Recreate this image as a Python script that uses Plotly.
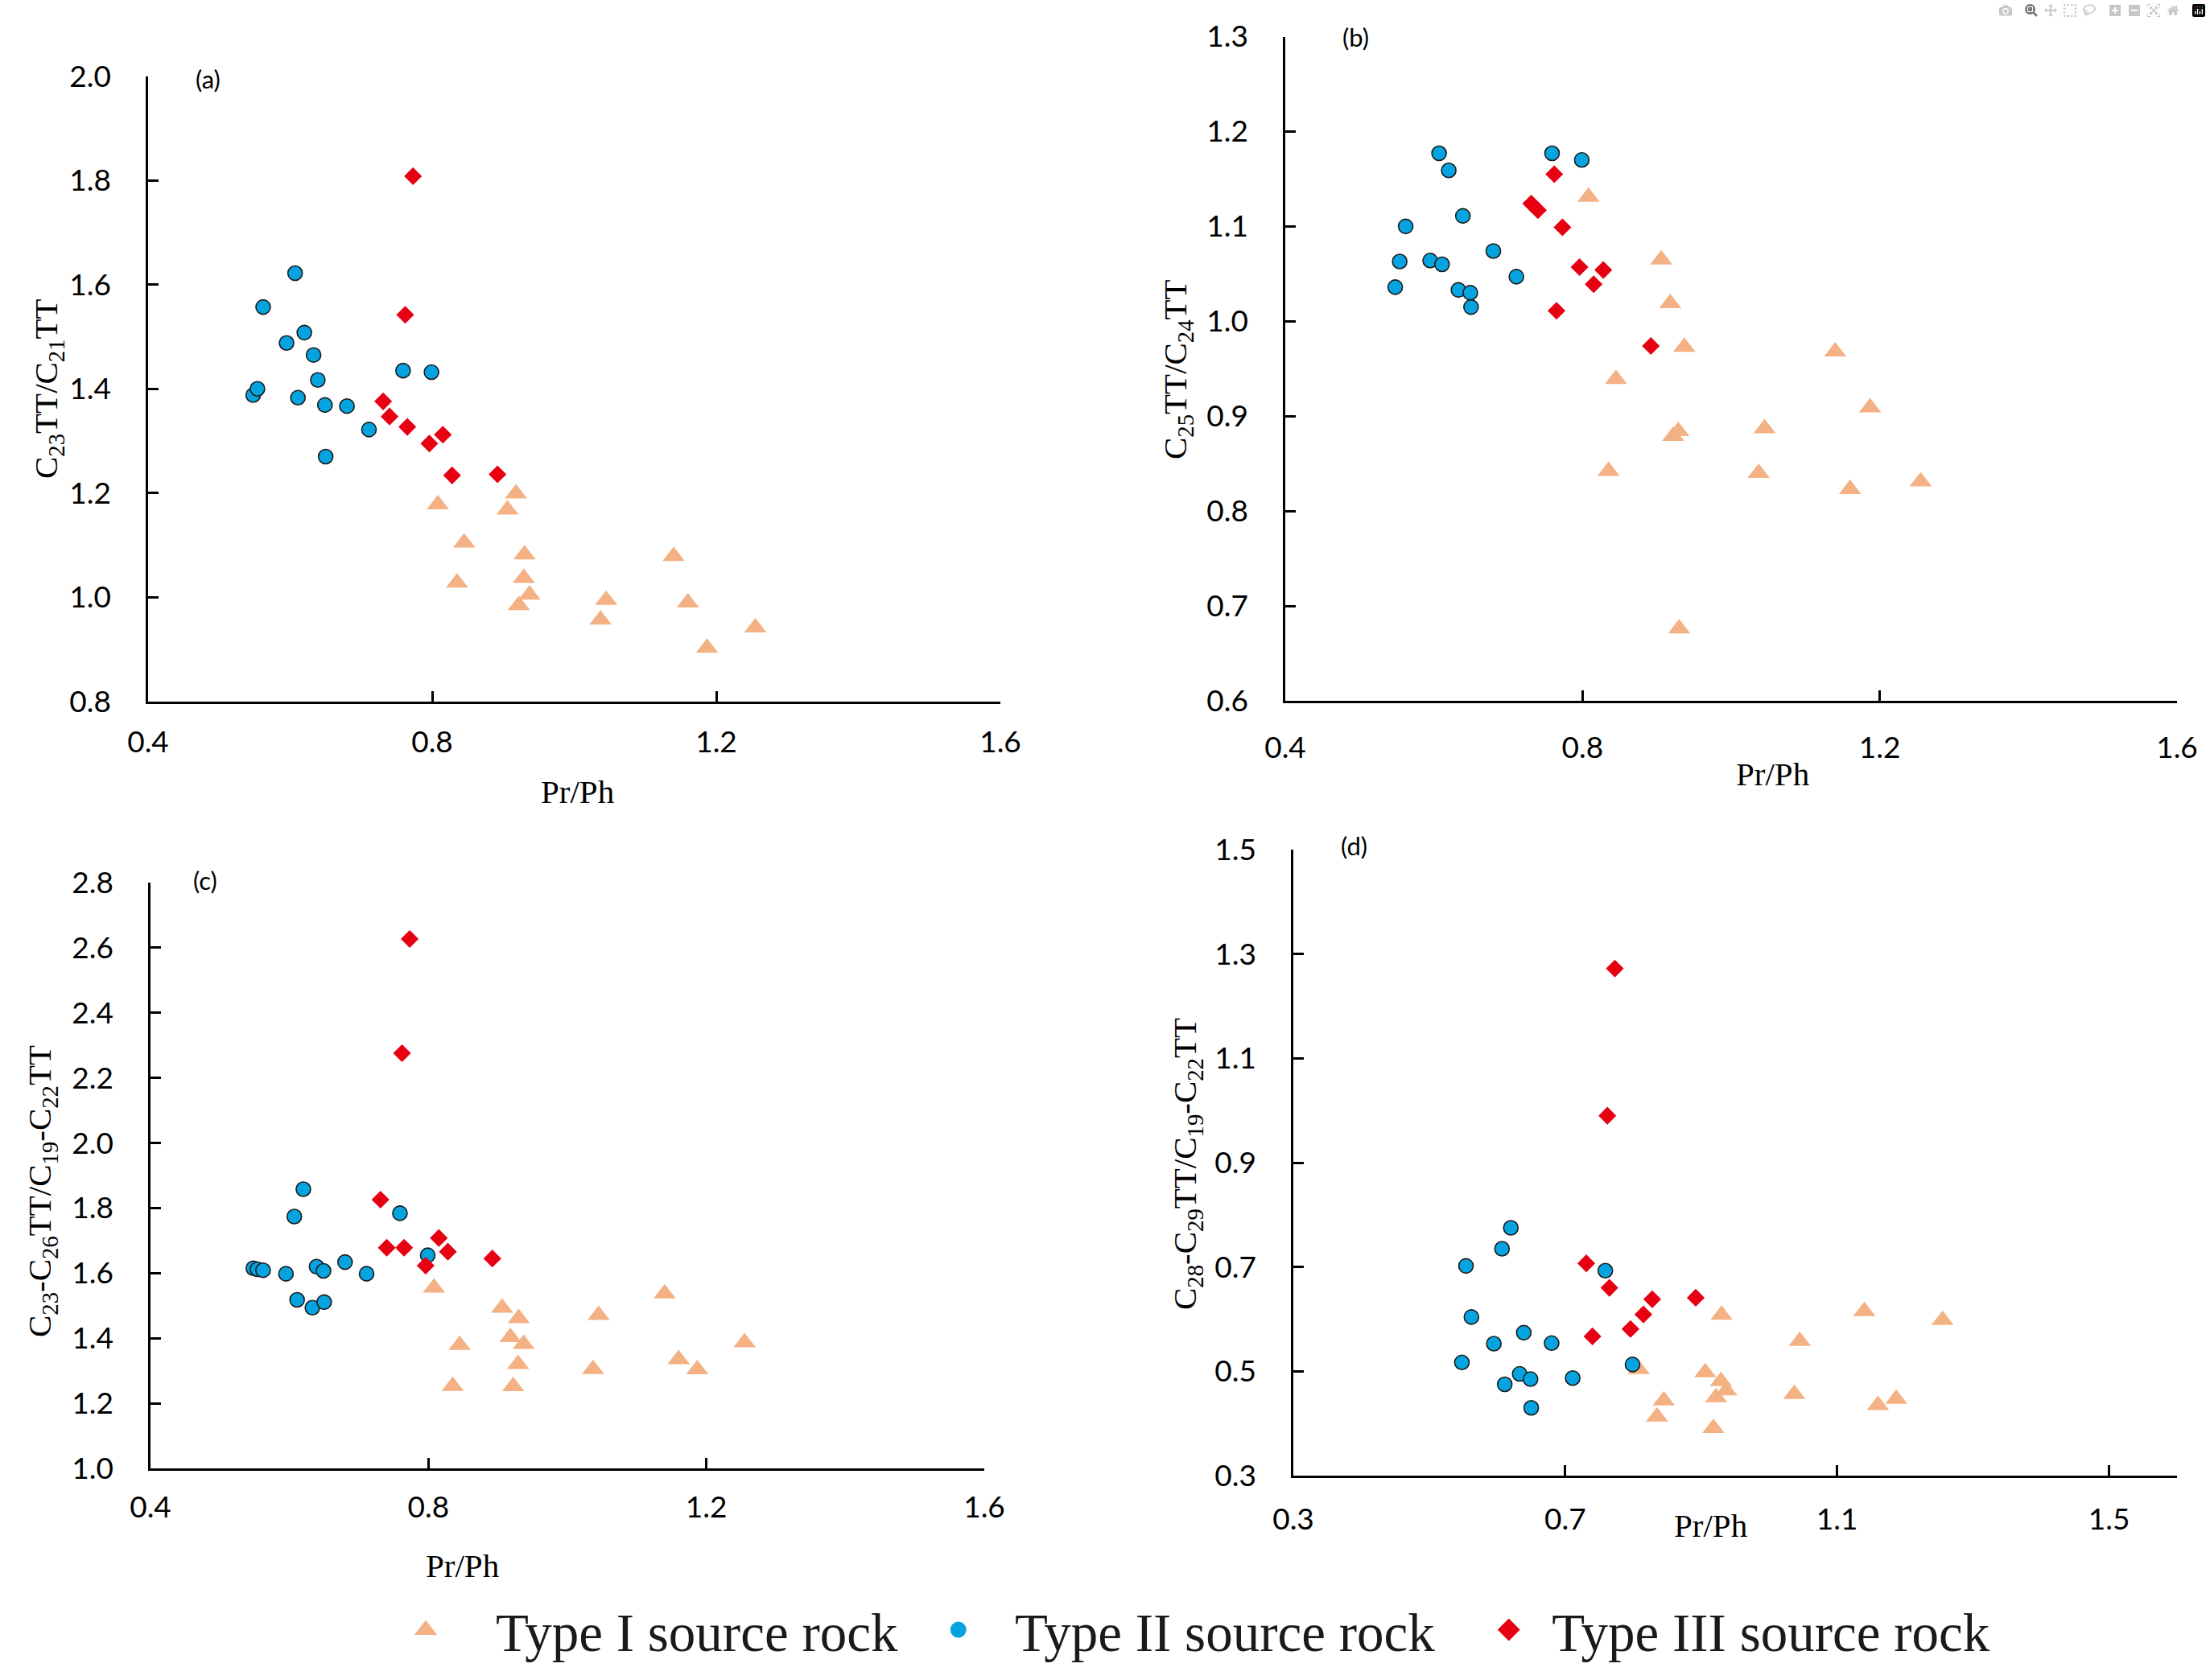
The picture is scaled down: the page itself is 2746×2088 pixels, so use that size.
import plotly.graph_objects as go

# ---------------- data ----------------
type1_prph = [0.808, 0.835, 0.845, 0.906, 0.918, 0.922, 0.929, 0.930, 0.937, 1.037, 1.045, 1.140, 1.160, 1.187, 1.255]
type1_a = [1.178, 1.028, 1.105, 1.168, 1.199, 0.985, 1.037, 1.082, 1.005, 0.957, 0.995, 1.079, 0.990, 0.903, 0.942]
type1_b = [1.131, 0.842, 0.939, 1.065, 1.019, 0.879, 0.884, 0.676, 0.973, 0.840, 0.887, 0.968, 0.823, 0.909, 0.831]
type1_c = [1.555, 1.253, 1.379, 1.493, 1.403, 1.252, 1.320, 1.461, 1.382, 1.305, 1.471, 1.537, 1.335, 1.304, 1.387]
type1_d = [0.504, 0.413, 0.444, 0.498, 0.391, 0.450, 0.481, 0.608, 0.463, 0.456, 0.558, 0.615, 0.435, 0.447, 0.598]

type2_prph = [0.548, 0.554, 0.562, 0.595, 0.607, 0.611, 0.620, 0.633, 0.639, 0.649, 0.650, 0.680, 0.711, 0.759, 0.799]
type2_a = [1.388, 1.400, 1.557, 1.488, 1.622, 1.383, 1.508, 1.465, 1.417, 1.369, 1.270, 1.367, 1.322, 1.435, 1.432]
type2_b = [1.036, 1.063, 1.100, 1.064, 1.177, 1.060, 1.159, 1.033, 1.111, 1.030, 1.015, 1.074, 1.047, 1.177, 1.170]
type2_c = [1.615, 1.612, 1.609, 1.598, 1.774, 1.518, 1.858, 1.494, 1.620, 1.607, 1.511, 1.634, 1.598, 1.784, 1.655]
type2_d = [0.517, 0.702, 0.604, 0.553, 0.735, 0.475, 0.775, 0.495, 0.574, 0.485, 0.430, 0.554, 0.487, 0.693, 0.513]

type3_prph = [0.731, 0.740, 0.762, 0.765, 0.773, 0.796, 0.815, 0.828, 0.892]
type3_a = [1.376, 1.347, 1.542, 1.327, 1.808, 1.295, 1.312, 1.234, 1.236]
type3_b = [1.124, 1.117, 1.155, 1.011, 1.099, 1.057, 1.039, 1.054, 0.974]
type3_c = [1.826, 1.678, 2.276, 1.678, 2.627, 1.623, 1.708, 1.666, 1.645]
type3_d = [0.707, 0.567, 0.990, 0.660, 1.272, 0.581, 0.609, 0.638, 0.641]

series_names = ["Type I source rock", "Type II source rock", "Type III source rock"]
panel_labels = ["(a)", "(b)", "(c)", "(d)"]
y_titles = [
    "C<sub>23</sub>TT/C<sub>21</sub>TT",
    "C<sub>25</sub>TT/C<sub>24</sub>TT",
    "C<sub>23</sub>-C<sub>26</sub>TT/C<sub>19</sub>-C<sub>22</sub>TT",
    "C<sub>28</sub>-C<sub>29</sub>TT/C<sub>19</sub>-C<sub>22</sub>TT",
]
x_title = "Pr/Ph"

# ---------------- styles ----------------
W, H = 2746, 2088
ORANGE = "#F4B183"
BLUE = "#05A4E0"
RED = "#E60012"
TICK_FONT = dict(family="Lato", size=37, color="black")
SERIF = "Liberation Serif"

# legend names padded with non-breaking spaces to reproduce the spacing
NB = "\u00a0"
legend_names = [
    NB * 4 + series_names[0] + NB * 3,
    NB * 3 + series_names[1] + NB * 4,
    NB * 2 + series_names[2],
]

panels = [
    # (xaxis id, yaxis id, y arrays, x range, x tick0, y range, y dtick, x domain px, y domain px (top,bottom), x label standoff)
    ("x", "y", (type1_a, type2_a, type3_a), [0.4, 1.6], 0.4, [0.8, 2.0], 0.2, (184, 1243), (94.6, 872), 16),
    ("x2", "y2", (type1_b, type2_b, type3_b), [0.4, 1.6], 0.4, [0.6, 1.3], 0.1, (1597, 2705), (45.5, 871), 24),
    ("x3", "y3", (type1_c, type2_c, type3_c), [0.4, 1.6], 0.4, [1.0, 2.8], 0.2, (187, 1223), (1097, 1825), 14),
    ("x4", "y4", (type1_d, type2_d, type3_d), [0.3, 1.6], 0.3, [0.3, 1.5], 0.2, (1607, 2705), (1056, 1834), 20),
]

fig = go.Figure()

for i, (xa, ya, ys, xr, x0, yr, ydt, xd, yd, xso) in enumerate(panels):
    fig.add_trace(go.Scatter(
        x=type1_prph, y=ys[0], mode="markers", xaxis=xa, yaxis=ya,
        name=series_names[0], legendgroup="t1", showlegend=False,
        marker=dict(symbol="triangle-up", size=24, color=ORANGE, line=dict(width=0)),
    ))
    fig.add_trace(go.Scatter(
        x=type2_prph, y=ys[1], mode="markers", xaxis=xa, yaxis=ya,
        name=series_names[1], legendgroup="t2", showlegend=False,
        marker=dict(symbol="circle", size=18, color=BLUE, line=dict(width=1.6, color="#1a1a1a")),
    ))
    fig.add_trace(go.Scatter(
        x=type3_prph, y=ys[2], mode="markers", xaxis=xa, yaxis=ya,
        name=series_names[2], legendgroup="t3", showlegend=False,
        marker=dict(symbol="diamond", size=17, color=RED, line=dict(width=0)),
    ))

# legend entries (empty traces, larger symbols via a same-colour outline)
legend_styles = [
    dict(symbol="triangle-up", size=16, color=ORANGE, line=dict(width=5, color=ORANGE)),
    dict(symbol="circle", size=16, color=BLUE, line=dict(width=4, color=BLUE)),
    dict(symbol="diamond", size=16, color=RED, line=dict(width=5, color=RED)),
]
for k in range(3):
    fig.add_trace(go.Scatter(
        x=[None], y=[None], mode="markers", xaxis="x", yaxis="y",
        name=legend_names[k], legendgroup="t%d" % (k + 1), showlegend=True,
        marker=legend_styles[k], hoverinfo="skip",
    ))

axis_common = dict(
    showline=True, linecolor="black", linewidth=2.5,
    ticks="inside", ticklen=13, tickwidth=2.5, tickcolor="black",
    showgrid=False, zeroline=False, tickfont=TICK_FONT, tickformat=".1f",
    automargin=False,
)

layout = dict(
    width=W, height=H, autosize=False,
    margin=dict(l=0, r=0, t=0, b=0, pad=0, autoexpand=False),
    paper_bgcolor="white", plot_bgcolor="white",
    showlegend=True,
    legend=dict(
        orientation="h", x=509 / W, xanchor="left", y=1 - 2026 / H, yanchor="middle",
        font=dict(family=SERIF, size=67, color="#1a1a1a"),
        bgcolor="rgba(0,0,0,0)", borderwidth=0, itemsizing="trace",
    ),
)

annotations = []
for i, (xa, ya, ys, xr, x0, yr, ydt, xd, yd, xso) in enumerate(panels):
    xkey = "xaxis" if xa == "x" else "xaxis" + xa[1:]
    ykey = "yaxis" if ya == "y" else "yaxis" + ya[1:]
    layout[xkey] = dict(
        axis_common, range=xr, tick0=x0, dtick=0.4, anchor=ya,
        domain=[xd[0] / W, xd[1] / W], ticklabelstandoff=xso,
    )
    layout[ykey] = dict(
        axis_common, range=yr, tick0=yr[0], dtick=ydt, anchor=xa,
        domain=[1 - yd[1] / H, 1 - yd[0] / H], ticklabelstandoff=36,
    )

# axis titles and panel labels (positions in figure pixels)
x_title_pos = [(717, 984), (2202, 962), (574, 1946), (2125, 1896)]
y_title_pos = [(60, 483), (1463, 459), (52, 1481), (1475, 1447)]
label_pos = [(258, 98), (1685, 46), (255, 1094), (1682, 1051)]

for i in range(4):
    annotations.append(dict(
        text=x_title, x=x_title_pos[i][0] / W, y=1 - x_title_pos[i][1] / H,
        xref="paper", yref="paper", showarrow=False, xanchor="center", yanchor="middle",
        font=dict(family=SERIF, size=41, color="black"),
    ))
    annotations.append(dict(
        text=y_titles[i], x=y_title_pos[i][0] / W, y=1 - y_title_pos[i][1] / H,
        xref="paper", yref="paper", showarrow=False, xanchor="center", yanchor="middle",
        textangle=-90, font=dict(family=SERIF, size=41, color="black"),
    ))
    annotations.append(dict(
        text=panel_labels[i], x=label_pos[i][0] / W, y=1 - label_pos[i][1] / H,
        xref="paper", yref="paper", showarrow=False, xanchor="center", yanchor="middle",
        font=dict(family="Lato", size=31, color="black"),
    ))

layout["annotations"] = annotations
fig.update_layout(**layout)

fig.write_html("out.html", post_script="document.body.style.margin='0';")
